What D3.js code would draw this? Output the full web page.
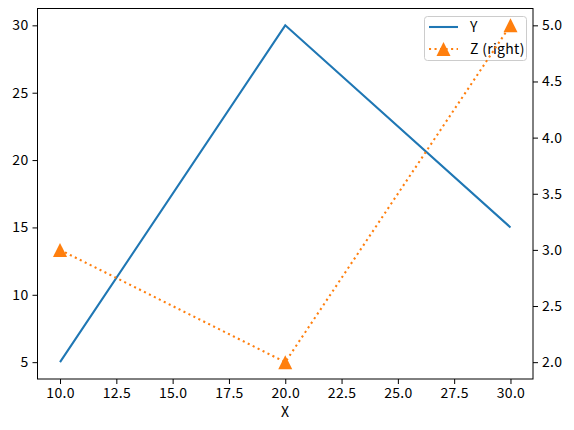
<!DOCTYPE html>
<html lang="en">
<head>
<meta charset="utf-8">
<title>Y and Z</title>
<script src="https://cdn.jsdelivr.net/npm/d3@7"></script>
<style>
  body { margin: 0; background: #fff; }
  svg text { font-family: "Noto Sans CJK JP", "DejaVu Sans", sans-serif; font-size: 14px; fill: #000; letter-spacing: 0.3px; }
</style>
</head>
<body>
<script>
// data
var xs = [10, 20, 30];
var yVals = [5, 30, 15];
var zVals = [3, 2, 5];
var xTicks = [10, 12.5, 15, 17.5, 20, 22.5, 25, 27.5, 30];
var yTicks = [5, 10, 15, 20, 25, 30];
var zTicks = [2, 2.5, 3, 3.5, 4, 4.5, 5];

var W = 574, H = 430;
var mLeft = 37.5, mRight = 533, mTop = 8.5, mBottom = 379;

var x = d3.scaleLinear().domain([9, 31]).range([mLeft, mRight]);
var y = d3.scaleLinear().domain([3.75, 31.25]).range([mBottom, mTop]);
var z = d3.scaleLinear().domain([1.85, 5.15]).range([mBottom, mTop]);

var svg = d3.select("body").append("svg")
    .attr("width", W).attr("height", H);

// matplotlib style "^" marker: bbox centred on the point
var triUp = {
    draw: function(ctx, size) {
        var r = Math.sqrt(size) / 2;
        ctx.moveTo(0, -r);
        ctx.lineTo(-r, r);
        ctx.lineTo(r, r);
        ctx.closePath();
    }
};
var tri = d3.symbol().type(triUp).size(196);

var lineY = d3.line().x(function(d, i) { return x(xs[i]); }).y(function(d) { return y(d); });
var lineZ = d3.line().x(function(d, i) { return x(xs[i]); }).y(function(d) { return z(d); });

svg.append("path").datum(yVals)
    .attr("d", lineY)
    .attr("fill", "none").attr("stroke", "#1f77b4").attr("stroke-width", 2.08);

// legend (belongs to the left axes, so Z draws over it)
var lg = svg.append("g").attr("transform", "translate(424,16)");
lg.append("rect")
    .attr("x", 0.5).attr("y", 0.5)
    .attr("width", 102).attr("height", 44).attr("rx", 3)
    .attr("fill", "#fff").attr("fill-opacity", 0.8)
    .attr("stroke", "#cccccc").attr("stroke-width", 1);
lg.append("line").attr("x1", 5).attr("x2", 34).attr("y1", 11).attr("y2", 11)
    .attr("stroke", "#1f77b4").attr("stroke-width", 2.08);
lg.append("line").attr("x1", 5).attr("x2", 34).attr("y1", 33).attr("y2", 33)
    .attr("stroke", "#ff7f0e").attr("stroke-width", 2.08).attr("stroke-dasharray", "2.08,3.44");
lg.append("path").attr("d", tri).attr("transform", "translate(19.5,33)").attr("fill", "#ff7f0e");
lg.append("text").attr("x", 46).attr("y", 15.5).text("Y");
lg.append("text").attr("x", 46).attr("y", 37.5).text("Z (right)");

svg.append("path").datum(zVals)
    .attr("d", lineZ)
    .attr("fill", "none").attr("stroke", "#ff7f0e").attr("stroke-width", 2.08)
    .attr("stroke-dasharray", "2.08,3.44");

svg.selectAll(".mk").data(zVals).enter().append("path")
    .attr("class", "mk")
    .attr("d", tri)
    .attr("transform", function(d, i) { return "translate(" + x(xs[i]) + "," + z(d) + ")"; })
    .attr("fill", "#ff7f0e");

// axes
function styleAxis(g) {
    g.select(".domain").remove();
    g.selectAll(".tick line").attr("stroke", "#000").attr("stroke-width", 1);
    g.selectAll(".tick text").attr("font-family", null).attr("font-size", null);
}

svg.append("g").attr("transform", "translate(0," + mBottom + ")")
    .call(d3.axisBottom(x).tickValues(xTicks).tickFormat(d3.format(".1f")).tickSize(5).tickPadding(4))
    .call(styleAxis);

svg.append("g").attr("transform", "translate(" + mLeft + ",0)")
    .call(d3.axisLeft(y).tickValues(yTicks).tickFormat(d3.format("d")).tickSize(5).tickPadding(4))
    .call(styleAxis);

svg.append("g").attr("transform", "translate(" + mRight + ",0)")
    .call(d3.axisRight(z).tickValues(zTicks).tickFormat(d3.format(".1f")).tickSize(5).tickPadding(4))
    .call(styleAxis);

// frame
svg.append("rect")
    .attr("x", mLeft).attr("y", mTop)
    .attr("width", mRight - mLeft).attr("height", mBottom - mTop)
    .attr("fill", "none").attr("stroke", "#000").attr("stroke-width", 1);

svg.append("text")
    .attr("x", (mLeft + mRight) / 2).attr("y", 417)
    .attr("text-anchor", "middle")
    .text("X");
</script>
</body>
</html>
